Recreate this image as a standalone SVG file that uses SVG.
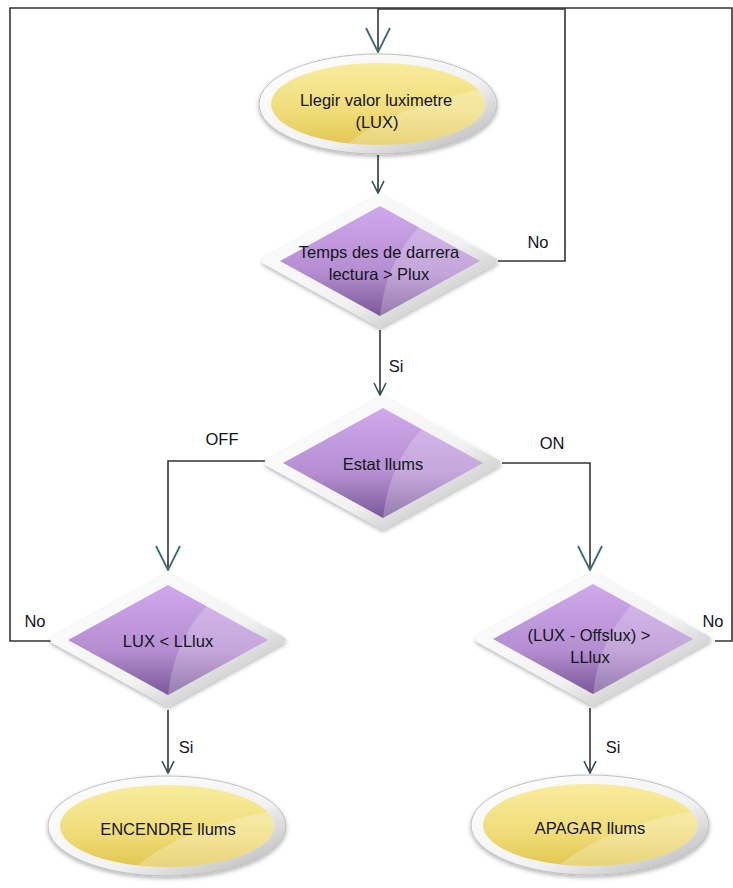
<svg xmlns="http://www.w3.org/2000/svg" width="733" height="888" viewBox="0 0 733 888">
<style>
  .lbl{font-family:"Liberation Sans",Arial,sans-serif;font-size:16.5px;fill:#14141e;text-anchor:middle}
  .edge{fill:none;stroke:#333;stroke-width:1.6}
</style>
<defs>
  <linearGradient id="ring" x1="0" y1="0" x2="1" y2="1">
    <stop offset="0" stop-color="#ffffff"/>
    <stop offset="0.6" stop-color="#f2f2f2"/>
    <stop offset="1" stop-color="#b0b0b0"/>
  </linearGradient>
  <linearGradient id="purp" x1="0" y1="0" x2="0" y2="1">
    <stop offset="0" stop-color="#d0a8ec"/>
    <stop offset="0.6" stop-color="#b48ed0"/>
    <stop offset="1" stop-color="#7a5898"/>
  </linearGradient>
  <linearGradient id="yel" x1="0" y1="0" x2="0" y2="1">
    <stop offset="0" stop-color="#f8ec9e"/>
    <stop offset="0.6" stop-color="#f0dc78"/>
    <stop offset="1" stop-color="#e2c650"/>
  </linearGradient>
  <filter id="sh" x="-20%" y="-20%" width="140%" height="150%">
    <feDropShadow dx="0" dy="2" stdDeviation="2" flood-color="#000" flood-opacity="0.3"/>
  </filter>
  <g id="dia">
    <path d="M0,-63 L114,0 L0,63 L-114,0 Z" fill="url(#ring)" stroke="url(#ring)" stroke-width="7" stroke-linejoin="round" filter="url(#sh)"/>
    <path d="M0,-55 L100,0 L0,55 L-100,0 Z" fill="url(#purp)"/>
    <path d="M39,-34 L100,0 L0,55 C4,20 16,-10 39,-34 Z" fill="#ffffff" opacity="0.22"/>
  </g>
  <g id="ell">
    <ellipse cx="0" cy="0" rx="119" ry="50" fill="url(#ring)" stroke="#c0c0c0" stroke-width="1" filter="url(#sh)"/>
    <ellipse cx="0" cy="0" rx="107" ry="41" fill="url(#yel)"/>
    <path d="M101,-14 A107,41 0 0 1 -30,39.5 C0,15 50,-5 101,-14 Z" fill="#ffffff" opacity="0.25"/>
  </g>
  <marker id="bigV" viewBox="0 0 26 26" refX="25" refY="13" markerWidth="26" markerHeight="26" markerUnits="userSpaceOnUse" orient="auto">
    <path d="M1,1 L25,13 L1,25" fill="none" stroke="#3a6a72" stroke-width="1.8"/>
  </marker>
  <marker id="smV" viewBox="0 0 14 14" refX="13" refY="7" markerWidth="14" markerHeight="14" markerUnits="userSpaceOnUse" orient="auto">
    <path d="M1,1 L13,7 L1,13" fill="none" stroke="#2f4f52" stroke-width="1.6"/>
  </marker>
</defs>

<g id="connectors">
  <path class="edge" d="M52,641 H10 V8 H378"/>
  <path class="edge" d="M715,641 H732 V8 H378"/>
  <path class="edge" d="M498,261 H565 V9 H378 V52" marker-end="url(#bigV)"/>
  <path class="edge" d="M378,155 V193" marker-end="url(#smV)"/>
  <path class="edge" d="M380,330 V395" marker-end="url(#smV)"/>
  <path class="edge" d="M265,461 H168 V570" marker-end="url(#bigV)"/>
  <path class="edge" d="M502,463 H590 V570" marker-end="url(#bigV)"/>
  <path class="edge" d="M168,710 V773" marker-end="url(#smV)"/>
  <path class="edge" d="M590,708 V773" marker-end="url(#smV)"/>
  <text class="lbl" x="538" y="248">No</text>
  <text class="lbl" x="396" y="372">Si</text>
  <text class="lbl" x="222" y="445">OFF</text>
  <text class="lbl" x="552" y="449">ON</text>
  <text class="lbl" x="35" y="627">No</text>
  <text class="lbl" x="713" y="627">No</text>
  <text class="lbl" x="186" y="753">Si</text>
  <text class="lbl" x="613" y="753">Si</text>
</g>

<g id="n_llegir">
  <use href="#ell" x="378" y="104"/>
  <text class="lbl" x="376" y="106">Llegir valor luximetre</text>
  <text class="lbl" x="377" y="128">(LUX)</text>
</g>
<g id="n_temps">
  <use href="#dia" x="380" y="261"/>
  <text class="lbl" x="379" y="258">Temps des de darrera</text>
  <text class="lbl" x="379" y="280">lectura &gt; Plux</text>
</g>
<g id="n_estat">
  <use href="#dia" x="383" y="463"/>
  <text class="lbl" x="383" y="470">Estat llums</text>
</g>
<g id="n_luxll">
  <use href="#dia" x="168" y="640"/>
  <text class="lbl" x="168" y="647">LUX &lt; LLlux</text>
</g>
<g id="n_offs">
  <use href="#dia" x="593" y="639"/>
  <text class="lbl" x="589" y="641">(LUX - Offslux) &gt;</text>
  <text class="lbl" x="590" y="663">LLlux</text>
</g>
<g id="n_encendre">
  <use href="#ell" x="167" y="826"/>
  <text class="lbl" x="168" y="835">ENCENDRE llums</text>
</g>
<g id="n_apagar">
  <use href="#ell" x="590" y="825"/>
  <text class="lbl" x="590" y="834">APAGAR llums</text>
</g>
</svg>
